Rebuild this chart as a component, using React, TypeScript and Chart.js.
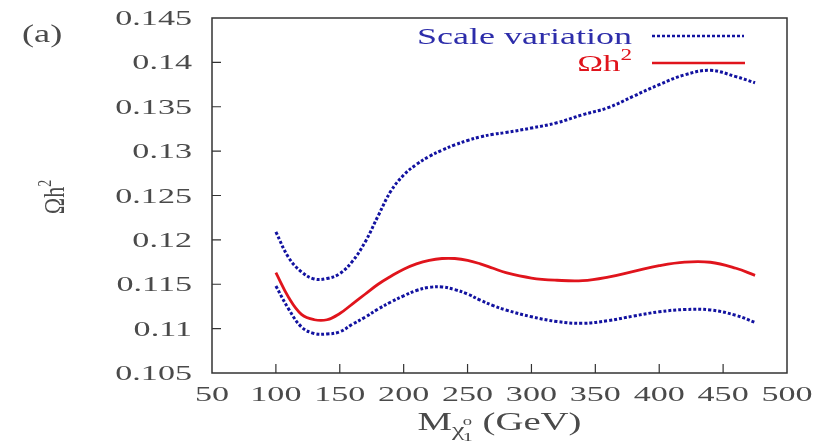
import React, { useEffect, useRef } from "react";
import { Chart, registerables } from "chart.js";

Chart.register(...registerables);

// Neutralino mass (GeV) at which the relic density is sampled
const massGeV = [100, 110, 120, 130, 140, 150, 160, 170, 180, 190, 200, 210, 220, 230, 240, 250, 260, 270, 280, 300, 320, 340, 360, 380, 400, 420, 440, 460, 475];

// Central value of Omega h^2
const omegaCentral = [0.1163, 0.1135, 0.1116, 0.111, 0.111, 0.1117, 0.1128, 0.1139, 0.115, 0.1159, 0.1167, 0.1173, 0.1177, 0.1179, 0.1179, 0.1177, 0.1173, 0.1168, 0.1163, 0.1157, 0.11545, 0.1154, 0.1158, 0.11645, 0.1171, 0.1175, 0.11748, 0.1168, 0.116];

// Upper and lower edges of the scale-variation band
const scaleUpper = [0.1209, 0.118, 0.1164, 0.1156, 0.11565, 0.1162, 0.1176, 0.1198, 0.1227, 0.1255, 0.1273, 0.1285, 0.1294, 0.1301, 0.1307, 0.1312, 0.1316, 0.1319, 0.1321, 0.1326, 0.1332, 0.1341, 0.1349, 0.1362, 0.1375, 0.1386, 0.1391, 0.1384, 0.1377];
const scaleLower = [0.1148, 0.1122, 0.1102, 0.10945, 0.1094, 0.10965, 0.1105, 0.1113, 0.1122, 0.113, 0.1137, 0.1143, 0.11465, 0.1147, 0.1144, 0.1139, 0.1132, 0.1126, 0.1121, 0.11134, 0.1108, 0.1106, 0.1109, 0.11142, 0.1119, 0.11215, 0.1121, 0.1115, 0.1107];

// Axis ticks
const xTicks = [50, 100, 150, 200, 250, 300, 350, 400, 450, 500];
const xTickLabels = ["50", "100", "150", "200", "250", "300", "350", "400", "450", "500"];
const yTicks = [0.105, 0.11, 0.115, 0.12, 0.125, 0.13, 0.135, 0.14, 0.145];
const yTickLabels = ["0.105", "0.11", "0.115", "0.12", "0.125", "0.13", "0.135", "0.14", "0.145"];

const BLUE = "#1212a0";
const RED = "#e0141c";
const TEXT = "#4a4a4a";
const FAMILY = '"Liberation Serif", "DejaVu Serif", serif';
const STRETCH = 1.55;

type Run = { t: string; size: number; dy?: number; advance?: boolean; dx?: number };

function drawRuns(
  ctx: CanvasRenderingContext2D,
  runs: Run[],
  x: number,
  y: number,
  align: "left" | "right" | "center",
  color: string,
  sx: number = STRETCH,
  sy: number = 1
) {
  ctx.save();
  ctx.fillStyle = color;
  ctx.textBaseline = "alphabetic";
  ctx.textAlign = "left";
  const widths = runs.map((r) => {
    ctx.font = `${r.size}px ${FAMILY}`;
    return ctx.measureText(r.t).width;
  });
  let total = 0;
  runs.forEach((r, i) => {
    if (r.advance !== false) total += widths[i] + (r.dx || 0);
  });
  ctx.translate(x, y);
  ctx.scale(sx, sy);
  let cx = align === "right" ? -total : align === "center" ? -total / 2 : 0;
  runs.forEach((r, i) => {
    ctx.font = `${r.size}px ${FAMILY}`;
    ctx.fillText(r.t, cx + (r.dx || 0), r.dy || 0);
    if (r.advance !== false) cx += widths[i] + (r.dx || 0);
  });
  ctx.restore();
}

const framePlugin = {
  id: "frameAndLabels",
  afterDraw(chart: any) {
    const ctx: CanvasRenderingContext2D = chart.ctx;
    const { left, right, top, bottom } = chart.chartArea;
    const xs = chart.scales.x;
    const ys = chart.scales.y;

    // frame
    ctx.save();
    ctx.strokeStyle = "#333";
    ctx.lineWidth = 1.5;
    ctx.strokeRect(left, top, right - left, bottom - top);

    // inner tick marks
    ctx.lineWidth = 1.2;
    ctx.beginPath();
    xTicks.forEach((v) => {
      const px = xs.getPixelForValue(v);
      if (px <= left + 1 || px >= right - 1) return;
      ctx.moveTo(px, bottom);
      ctx.lineTo(px, bottom - 9);
    });
    yTicks.forEach((v) => {
      const py = ys.getPixelForValue(v);
      if (py <= top + 1 || py >= bottom - 1) return;
      ctx.moveTo(left, py);
      ctx.lineTo(left + 9, py);
    });
    ctx.stroke();
    ctx.restore();

    // tick labels
    xTicks.forEach((v, i) => {
      drawRuns(ctx, [{ t: xTickLabels[i], size: 22 }], xs.getPixelForValue(v), bottom + 28, "center", TEXT);
    });
    yTicks.forEach((v, i) => {
      drawRuns(ctx, [{ t: yTickLabels[i], size: 22 }], left - 20, ys.getPixelForValue(v) + 7, "right", TEXT);
    });

    // x-axis title: M_{chi_1^0} (GeV)
    drawRuns(
      ctx,
      [
        { t: "M", size: 25 },
        { t: "χ", size: 18, dy: 6 },
        { t: "o", size: 12, dy: -5, advance: false, dx: -1 },
        { t: "1", size: 13, dy: 11, dx: -1 },
        { t: " (GeV)", size: 25 },
      ],
      (left + right) / 2,
      430,
      "center",
      TEXT
    );

    // y-axis title: Omega h^2 (rotated)
    ctx.save();
    ctx.translate(64, 197);
    ctx.rotate(-Math.PI / 2);
    drawRuns(
      ctx,
      [
        { t: "Ωh", size: 22 },
        { t: "2", size: 14, dy: -10 },
      ],
      0,
      0,
      "center",
      TEXT,
      1,
      1.3
    );
    ctx.restore();

    // panel tag
    drawRuns(ctx, [{ t: "(a)", size: 25 }], 22, 42, "left", TEXT, 1.45);

    // legend
    drawRuns(ctx, [{ t: "Scale variation", size: 24 }], 632, 44, "right", "#2d2daa", 1.5);
    drawRuns(
      ctx,
      [
        { t: "Ωh", size: 24 },
        { t: "2", size: 16, dy: -11 },
      ],
      632,
      71,
      "right",
      RED,
      1.45
    );
    ctx.save();
    ctx.lineWidth = 2.5;
    ctx.strokeStyle = BLUE;
    ctx.setLineDash([3, 2]);
    ctx.beginPath();
    ctx.moveTo(652, 36);
    ctx.lineTo(744, 36);
    ctx.stroke();
    ctx.setLineDash([]);
    ctx.strokeStyle = RED;
    ctx.lineWidth = 2.5;
    ctx.beginPath();
    ctx.moveTo(652, 63);
    ctx.lineTo(745, 63);
    ctx.stroke();
    ctx.restore();
  },
};

export default function App() {
  const canvasRef = useRef<HTMLCanvasElement | null>(null);

  useEffect(() => {
    if (!canvasRef.current) return;
    const toPoints = (ys: number[]) => massGeV.map((x, i) => ({ x, y: ys[i] }));
    const dotted = {
      borderColor: BLUE,
      borderWidth: 3,
      borderDash: [3, 2],
      pointRadius: 0,
      fill: false,
      tension: 0.4,
    };
    const chart = new Chart(canvasRef.current, {
      type: "line",
      data: {
        datasets: [
          { label: "Scale variation (upper)", data: toPoints(scaleUpper), ...dotted },
          { label: "Scale variation (lower)", data: toPoints(scaleLower), ...dotted },
          {
            label: "Ωh²",
            data: toPoints(omegaCentral),
            borderColor: RED,
            borderWidth: 2.8,
            pointRadius: 0,
            fill: false,
            tension: 0.4,
          },
        ],
      },
      options: {
        animation: false,
        responsive: false,
        layout: { padding: { left: 212, top: 18, right: 40, bottom: 75 } },
        plugins: { legend: { display: false }, tooltip: { enabled: false } },
        scales: {
          x: { type: "linear", min: 50, max: 500, display: false },
          y: { type: "linear", min: 0.105, max: 0.145, display: false },
        },
      },
      plugins: [framePlugin],
    });
    return () => chart.destroy();
  }, []);

  return (
    <div style={{ position: "absolute", left: 0, top: 0, width: 827, height: 448, background: "#fff" }}>
      <canvas ref={canvasRef} width={827} height={448} />
    </div>
  );
}
